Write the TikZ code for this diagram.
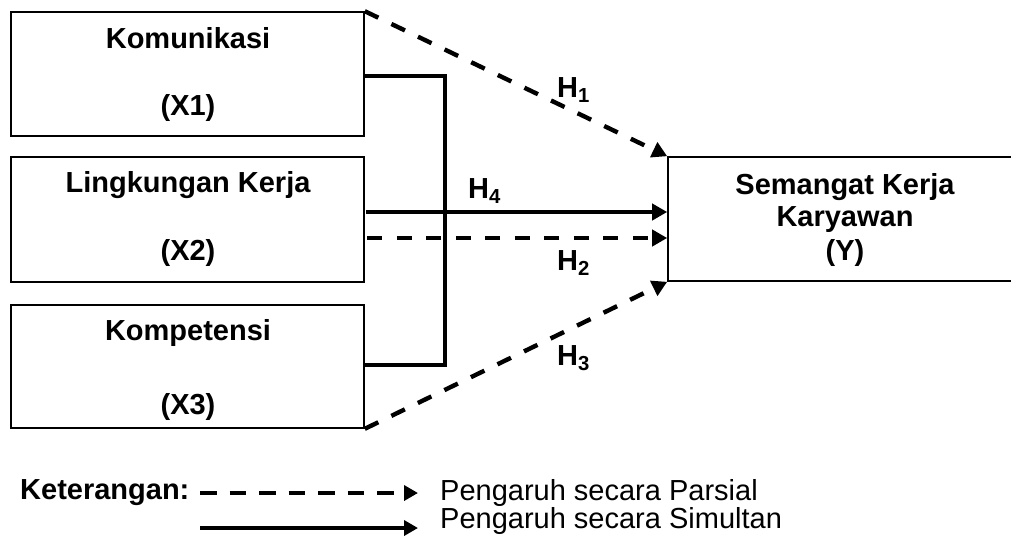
\documentclass[tikz,border=0pt]{standalone}
\usepackage{fontspec}
\setmainfont{Liberation Sans}
\usetikzlibrary{arrows.meta,calc}

\tikzset{
  varbox/.style={draw, line width=1.6pt, minimum width=353pt, minimum height=124pt, inner sep=0pt},
  boxtext/.style={font=\fontsize{29}{34}\selectfont\bfseries, inner sep=0pt},
  hlabel/.style={font=\fontsize{29}{34}\selectfont\bfseries, inner sep=0pt, anchor=base west},
  legtext/.style={font=\fontsize{29}{34}\selectfont, inner sep=0pt, anchor=base west},
  partial/.style={line width=4.4pt, dash pattern=on 15pt off 14.5pt, -{Triangle[length=15pt,width=16pt]}},
  simult/.style={line width=4.4pt, -{Triangle[length=15pt,width=16pt]}},
  bracket/.style={line width=4pt, line join=miter},
}

\begin{document}
\begin{tikzpicture}[x=1pt, y=-1pt]
\useasboundingbox (0,0) rectangle (1011,539);

% independent variables
\node[varbox] (X1) at (187.5,74) {};
\node[varbox, minimum height=125pt] (X2) at (187.5,219.5) {};
\node[varbox, minimum height=123pt] (X3) at (187.5,366.5) {};

\node[boxtext] (t1a) at (188,38) {Komunikasi};
\node[boxtext] (t1b) at (188,108) {(X1)};
\node[boxtext] (t2a) at (188,185) {Lingkungan Kerja};
\node[boxtext] (t2b) at (188,253) {(X2)};
\node[boxtext] (t3a) at (188,333) {Kompetensi};
\node[boxtext] (t3b) at (188,407) {(X3)};

% dependent variable (runs past the right edge)
\node[varbox, minimum width=400pt] (Y) at (868,219) {};
\node[boxtext] (ya) at (845,187) {Semangat Kerja};
\node[boxtext] (yb) at (845,220) {Karyawan};
\node[boxtext] (yc) at (845,253) {(Y)};

% simultaneous bracket joining X1 and X3
\coordinate (b1) at ($(X1.east)+(0,2)$);
\coordinate (b3) at ($(X3.east)+(0,-1.5)$);
\coordinate (bt) at (445,76);
\coordinate (bb) at (445,365);
\draw[bracket] (b1) -- (bt) -- (bb) -- (b3);

% hypotheses
\draw[partial] (X1.north east) -- (Y.north west);
\draw[partial] (X3.south east) -- (Y.south west);
\draw[simult] ($(X2.east)+(1.5,-7.5)$) -- ($(Y.west)+(0,-7)$);
\draw[partial] ($(X2.east)+(2.5,18.5)$) -- ($(Y.west)+(0,19)$);

\node[hlabel] (h1) at (557,97) {H\textsubscript{1}};
\node[hlabel] (h4) at (468,198) {H\textsubscript{4}};
\node[hlabel] (h2) at (557,270) {H\textsubscript{2}};
\node[hlabel] (h3) at (557,365) {H\textsubscript{3}};

% legend
\node[hlabel] (ket) at (20,499) {Keterangan:};
\coordinate (l1s) at (200,493);
\coordinate (l1e) at (418,493);
\coordinate (l2s) at (200,528);
\coordinate (l2e) at (418,528);
\draw[partial, line width=4.2pt, dash pattern=on 16.5pt off 13pt, -{Triangle[length=14pt,width=15pt]}] (l1s) -- (l1e);
\draw[simult, line width=4.2pt, -{Triangle[length=14pt,width=15pt]}] (l2s) -- (l2e);
\node[legtext] (lp) at (440,500) {Pengaruh secara Parsial};
\node[legtext] (ls) at (440,528) {Pengaruh secara Simultan};
\end{tikzpicture}
\end{document}
